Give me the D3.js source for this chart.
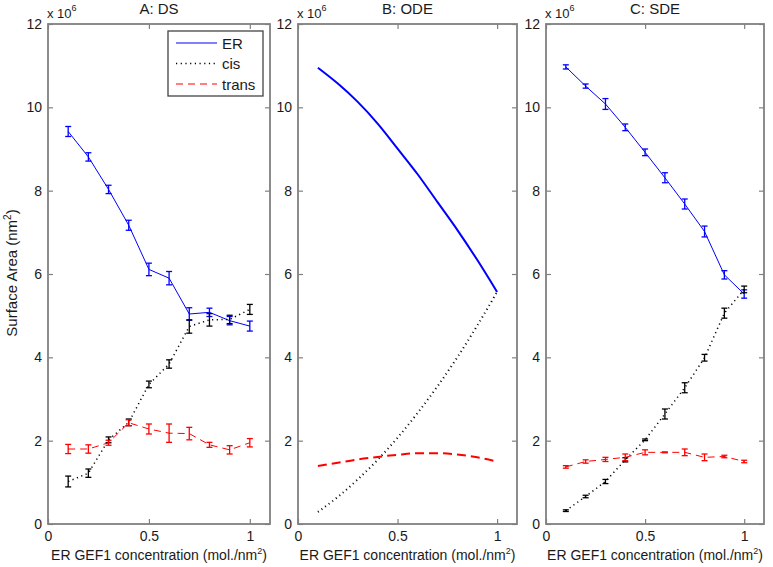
<!DOCTYPE html>
<html>
<head>
    <title>Surface Area vs ER GEF1</title>
    <script src="https://d3js.org/d3.v7.min.js"></script>
    <style>
        body { margin: 0; background: #fff; }
        text { font-family: "Liberation Sans", Arial, sans-serif; fill: #1a1a1a; }
        .tick line { stroke: #808080; stroke-width: 1.2px; }
        .tick text { font-size: 14px; }
    </style>
</head>
<body>
<script>
    // Data (values in units of 10^6 nm^2)
    const concentrations = [0.1, 0.2, 0.3, 0.4, 0.5, 0.6, 0.7, 0.8, 0.9, 1.0];

    // A: DS
    const dsER = [9.42, 8.81, 8.03, 7.17, 6.11, 5.9, 5.04, 5.08, 4.88, 4.75];
    const dsERErr = [0.12, 0.1, 0.1, 0.12, 0.15, 0.16, 0.15, 0.1, 0.1, 0.12];
    const dsCis = [1.02, 1.22, 2.02, 2.44, 3.35, 3.84, 4.74, 4.9, 4.91, 5.15];
    const dsCisErr = [0.13, 0.1, 0.07, 0.08, 0.08, 0.1, 0.16, 0.15, 0.1, 0.12];
    const dsTrans = [1.8, 1.8, 1.95, 2.43, 2.28, 2.18, 2.17, 1.9, 1.78, 1.95];
    const dsTransErr = [0.11, 0.1, 0.06, 0.07, 0.12, 0.22, 0.15, 0.06, 0.1, 0.1];

    // B: ODE
    const odeER = [10.95, 10.57, 10.13, 9.61, 9.01, 8.4, 7.73, 7.06, 6.34, 5.57];
    const odeCis = [0.29, 0.65, 1.07, 1.54, 2.07, 2.66, 3.3, 4.0, 4.76, 5.57];
    const odeTrans = [1.39, 1.47, 1.55, 1.61, 1.66, 1.7, 1.7, 1.67, 1.6, 1.5];

    // C: SDE
    const sdeER = [10.97, 10.51, 10.08, 9.52, 8.92, 8.31, 7.68, 7.02, 5.98, 5.52];
    const sdeERErr = [0.05, 0.05, 0.13, 0.08, 0.08, 0.12, 0.12, 0.13, 0.1, 0.1];
    const sdeCis = [0.32, 0.66, 1.02, 1.54, 2.02, 2.64, 3.27, 3.99, 5.06, 5.63];
    const sdeCisErr = [0.02, 0.03, 0.05, 0.05, 0.02, 0.12, 0.12, 0.08, 0.12, 0.08];
    const sdeTrans = [1.37, 1.5, 1.55, 1.6, 1.72, 1.72, 1.72, 1.6, 1.62, 1.5];
    const sdeTransErr = [0.03, 0.04, 0.05, 0.08, 0.06, 0.01, 0.08, 0.08, 0.03, 0.03];

    const panelTitles = ["A: DS", "B: ODE", "C: SDE"];
    const seriesNames = ["ER", "cis", "trans"];
    const xTicks = [0, 0.5, 1];
    const yTicks = [0, 2, 4, 6, 8, 10, 12];

    const W = 773, H = 567;
    const plotTop = 24, plotBottom = 524;
    const panelX = [[48, 270], [298, 517], [546, 764]];

    const colors = { ER: "#0000ff", cis: "#000000", trans: "#ff0000" };

    const svg = d3.select("body").append("svg")
        .attr("width", W)
        .attr("height", H);

    const y = d3.scaleLinear().domain([0, 12]).range([plotBottom, plotTop]);

    const panels = [
        { ER: dsER, cis: dsCis, trans: dsTrans, err: { ER: dsERErr, cis: dsCisErr, trans: dsTransErr }, thick: false },
        { ER: odeER, cis: odeCis, trans: odeTrans, err: null, thick: true },
        { ER: sdeER, cis: sdeCis, trans: sdeTrans, err: { ER: sdeERErr, cis: sdeCisErr, trans: sdeTransErr }, thick: false }
    ];

    function styleFor(name, thick) {
        const w = thick ? 2 : 1;
        if (name === "ER") return { width: w, dash: null };
        if (name === "cis") return { width: thick ? 2 : 1.5, dash: thick ? "1,3.5" : "1.2,3.5" };
        return { width: thick ? 2 : 1, dash: thick ? "9,5" : "7,5" };
    }

    panels.forEach((p, i) => {
        const x = d3.scaleLinear().domain([0, 1.1]).range(panelX[i]);
        const g = svg.append("g");

        // axes with inward ticks
        const left = g.append("g").attr("transform", `translate(${panelX[i][0]},0)`)
            .call(d3.axisLeft(y).tickValues(yTicks).tickSizeInner(-5).tickSizeOuter(0).tickPadding(6));
        const right = g.append("g").attr("transform", `translate(${panelX[i][1]},0)`)
            .call(d3.axisRight(y).tickValues(yTicks).tickSizeInner(-5).tickSizeOuter(0).tickFormat(""));
        const bot = g.append("g").attr("transform", `translate(0,${plotBottom})`)
            .call(d3.axisBottom(x).tickValues(xTicks).tickSizeInner(-5).tickSizeOuter(0).tickPadding(7).tickFormat(d3.format("")));
        const tp = g.append("g").attr("transform", `translate(0,${plotTop})`)
            .call(d3.axisTop(x).tickValues(xTicks).tickSizeInner(-5).tickSizeOuter(0).tickFormat(""));
        [left, right, bot, tp].forEach(a => a.select(".domain").remove());

        g.append("rect")
            .attr("x", panelX[i][0]).attr("y", plotTop)
            .attr("width", panelX[i][1] - panelX[i][0]).attr("height", plotBottom - plotTop)
            .attr("fill", "none").attr("stroke", "#808080").attr("stroke-width", 1.8);

        // title and exponent
        g.append("text")
            .attr("x", (panelX[i][0] + panelX[i][1]) / 2).attr("y", 14)
            .attr("text-anchor", "middle").style("font-size", "15px")
            .text(panelTitles[i]);
        const ex = g.append("text").attr("x", panelX[i][0] - 1).attr("y", 18).style("font-size", "13px");
        ex.append("tspan").text("x 10");
        ex.append("tspan").attr("dy", -7).style("font-size", "9px").text("6");

        // x label
        const xl = g.append("text")
            .attr("x", (panelX[i][0] + panelX[i][1]) / 2).attr("y", 560)
            .attr("text-anchor", "middle").style("font-size", "14px");
        xl.append("tspan").text("ER GEF1 concentration (mol./nm");
        xl.append("tspan").attr("dy", -6).style("font-size", "9px").text("2");
        xl.append("tspan").attr("dy", 6).text(")");

        // series
        seriesNames.forEach(name => {
            const vals = p[name];
            const st = styleFor(name, p.thick);
            const line = d3.line()
                .x((d, j) => x(concentrations[j]))
                .y(d => y(d));
            if (p.thick) line.curve(d3.curveMonotoneX);
            g.append("path")
                .datum(vals)
                .attr("d", line)
                .attr("fill", "none")
                .attr("stroke", colors[name])
                .attr("stroke-width", st.width)
                .attr("stroke-dasharray", st.dash);

            if (p.err) {
                const errs = p.err[name];
                const eb = g.append("g").attr("stroke", colors[name]).attr("stroke-width", 1.3);
                vals.forEach((v, j) => {
                    const cx = x(concentrations[j]);
                    const y1 = y(v - errs[j]), y2 = y(v + errs[j]);
                    eb.append("line").attr("x1", cx).attr("x2", cx).attr("y1", y1).attr("y2", y2);
                    eb.append("line").attr("x1", cx - 3).attr("x2", cx + 3).attr("y1", y1).attr("y2", y1);
                    eb.append("line").attr("x1", cx - 3).attr("x2", cx + 3).attr("y1", y2).attr("y2", y2);
                });
            }
        });
    });

    // y label
    const yl = svg.append("text")
        .attr("transform", "translate(17,273) rotate(-90)")
        .attr("text-anchor", "middle").style("font-size", "15px");
    yl.append("tspan").text("Surface Area (nm");
    yl.append("tspan").attr("dy", -6).style("font-size", "10px").text("2");
    yl.append("tspan").attr("dy", 6).text(")");

    // legend in panel A
    const legend = svg.append("g");
    legend.append("rect")
        .attr("x", 168).attr("y", 31).attr("width", 95).attr("height", 65)
        .attr("fill", "#fff").attr("stroke", "#444").attr("stroke-width", 1.3);
    seriesNames.forEach((name, k) => {
        const st = styleFor(name, false);
        const ly = 43 + k * 20.5;
        legend.append("line")
            .attr("x1", 176).attr("x2", 217).attr("y1", ly).attr("y2", ly)
            .attr("stroke", colors[name]).attr("stroke-width", st.width)
            .attr("stroke-dasharray", st.dash);
        legend.append("text")
            .attr("x", 222).attr("y", ly + 5.5)
            .style("font-size", "15px")
            .text(name);
    });
</script>
</body>
</html>
